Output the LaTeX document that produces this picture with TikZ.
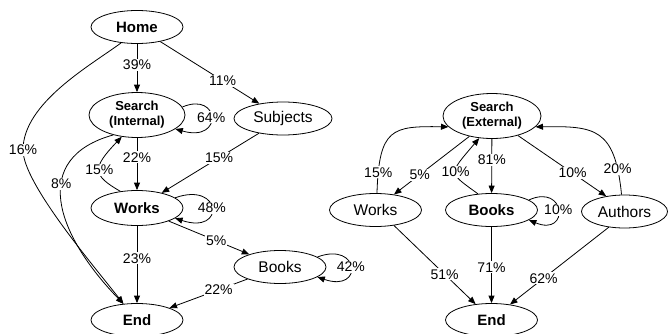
\documentclass[tikz,border=0pt]{standalone}
\usepackage{fontspec}
\setmainfont{Liberation Sans}
\usetikzlibrary{shapes.geometric,arrows.meta}

\begin{document}
\begin{tikzpicture}[x=1pt, y=1pt,
  page/.style={draw, ellipse, line width=0.8pt, inner sep=0pt,
    minimum width=92pt, minimum height=33pt, font=\fontsize{15.5}{18}\selectfont},
  bpage/.style={page, font=\fontsize{15}{18}\selectfont\bfseries},
  srch/.style={page, minimum width=96pt, minimum height=45pt, align=center,
    font=\fontsize{13}{15}\selectfont\bfseries},
  flow/.style={draw, line width=0.8pt, -{Triangle[length=7.5pt,width=6pt]}},
  pct/.style={fill=white, inner sep=1pt, font=\fontsize{14}{16}\selectfont}]
  \useasboundingbox (0,0) rectangle (668,333);

  % internal search
  \node[bpage] (home) at (137,306) {Home};
  \node[srch] (srchI) at (137,218) {Search\\(Internal)};
  \node[page, minimum width=98pt] (subj) at (283,214.5) {Subjects};
  \node[bpage, minimum height=35pt] (worksI) at (137,125) {Works};
  \node[page] (booksI) at (280,66) {Books};
  \node[bpage] (endI) at (137,13) {End};

  % external search
  \node[srch, minimum width=98pt] (srchE) at (492,217) {Search\\(External)};
  \node[page] (worksE) at (375.5,123) {Works};
  \node[bpage] (booksE) at (491.5,123) {Books};
  \node[page, minimum width=86pt] (auth) at (624.5,121.5) {Authors};
  \node[bpage] (endE) at (491.5,13) {End};

  % internal edges
  \draw[flow] (home) -- node[pct, pos=0.43] {39\%} (srchI);
  \draw[flow] (home) -- node[pct, pos=0.63] {11\%} (subj);
  \draw[flow] (home.225) .. controls (90.7,267.7) and (23,230) .. (23,183)
    node[pct] {16\%} .. controls (23,150) and (92.6,68.6) .. (endI.130);
  \draw[flow] (srchI.220) .. controls (30,175) and (55,100) ..
    node[pct, pos=0.4] {8\%} (endI.130);
  \draw[flow] (srchI.10) .. controls (220,242) and (224,190) ..
    node[pct] {64\%} (srchI.-20);
  \draw[flow] (srchI) -- node[pct, pos=0.37] {22\%} (worksI);
  \draw[flow] (worksI.135) .. controls (92,158) and (92,165) ..
    node[pct] {15\%} (srchI.235);
  \draw[flow] (subj) -- node[pct, pos=0.41] {15\%} (worksI);
  \draw[flow] (worksI.15) .. controls (222,152) and (226,98) ..
    node[pct] {48\%} (worksI.-15);
  \draw[flow] (worksI) -- node[pct, pos=0.59] {5\%} (booksI);
  \draw[flow] (booksI.15) .. controls (360,92) and (364,40) ..
    node[pct] {42\%} (booksI.-15);
  \draw[flow] (worksI) -- node[pct, pos=0.42] {23\%} (endI);
  \draw[flow] (booksI) -- node[pct, pos=0.37] {22\%} (endI);

  % external edges
  \draw[flow] (worksE.85) .. controls (379,205) and (392,207) ..
    node[pct, pos=0.12] {15\%} (srchE.194);
  \draw[flow] (srchE.222) -- node[pct, pos=0.66] {5\%} (worksE.40);
  \draw[flow] (booksE.130) .. controls (448,161) and (448,158) ..
    node[pct] {10\%} (srchE.240);
  \draw[flow] (srchE) -- node[pct, pos=0.39] {81\%} (booksE);
  \draw[flow] (srchE.-37) -- node[pct, pos=0.62] {10\%} (auth.140);
  \draw[flow] (auth.100) .. controls (615,205) and (595,207) ..
    node[pct, pos=0.15] {20\%} (srchE.-14);
  \draw[flow] (booksE.15) .. controls (566,150) and (570,96) ..
    node[pct] {10\%} (booksE.-15);
  \draw[flow] (worksE.-40) -- node[pct, pos=0.62] {51\%} (endE.135);
  \draw[flow] (booksE) -- node[pct, pos=0.53] {71\%} (endE);
  \draw[flow] (auth.-135) -- node[pct, pos=0.66] {62\%} (endE.40);
\end{tikzpicture}
\end{document}
